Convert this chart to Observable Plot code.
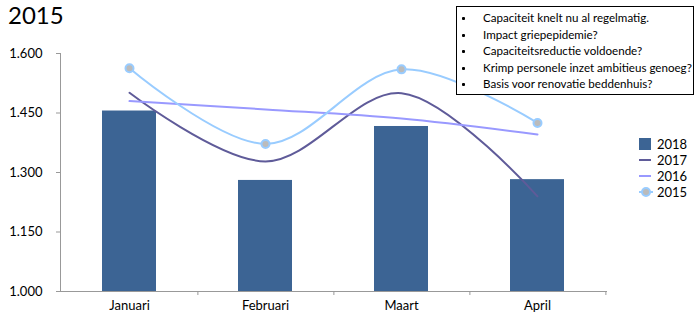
<!DOCTYPE html>
<html>
<head>
<meta charset="utf-8">
<script src="https://cdn.jsdelivr.net/npm/d3@7"></script>
<script src="https://cdn.jsdelivr.net/npm/@observablehq/plot@0.6"></script>
<style>
  html, body { margin: 0; padding: 0; background: #fff; }
  #wrap { position: relative; width: 698px; height: 313px; font-family: Lato, "Open Sans", sans-serif; color: #000; }
  #title { position: absolute; left: 8px; top: 0px; font-size: 24px; line-height: 30px; }
  #box { position: absolute; left: 456px; top: 6px; width: 238px; height: 89px; border: 1px solid #000; box-sizing: border-box; background: #fff; font-size: 11.6px; }
  #box ul { margin: 0; padding: 3px 0 0 0; list-style: none; }
  #box li { position: relative; line-height: 16.5px; padding-left: 26px; white-space: nowrap; }
  #box li::before { content: ""; position: absolute; left: 5px; top: 7px; width: 3px; height: 3px; background: #000; border-radius: 1px; }
  #legend { position: absolute; left: 639px; top: 136px; font-size: 13px; }
  .lg { position: relative; height: 16px; line-height: 16px; padding-left: 18px; }
  .sw { position: absolute; left: 0; }
</style>
</head>
<body>
<div id="wrap">
  <div id="chart"></div>
  <div id="title">2015</div>
  <div id="box"><ul id="notes"></ul></div>
  <div id="legend"></div>
</div>
<script>
const months = ["Januari", "Februari", "Maart", "April"];
const v2018 = [1455, 1280, 1416, 1282];
const v2017 = [1501, 1328, 1500, 1240];
const v2016 = [1480, 1459, 1436, 1396];
const v2015 = [1563, 1372, 1560, 1425];
const yTicks = [1000, 1150, 1300, 1450, 1600];
const notes = [
  "Capaciteit knelt nu al regelmatig.",
  "Impact griepepidemie?",
  "Capaciteitsreductie voldoende?",
  "Krimp personele inzet ambitieus genoeg?",
  "Basis voor renovatie beddenhuis?"
];
const seriesNames = ["2018", "2017", "2016", "2015"];
const colors = { "2018": "#3C6494", "2017": "#5F5B99", "2016": "#9999FF", "2015": "#99CCFF" };

const rows = months.map((m, i) => ({ m, v2018: v2018[i], v2017: v2017[i], v2016: v2016[i], v2015: v2015[i] }));

const W = 698, H = 313, mL = 60, mR = 91, mT = 53, mB = 22;
const step = (W - mL - mR) / months.length;
const fmt = d => d3.format(",")(d).replace(/,/g, ".");

const chart = Plot.plot({
  width: W, height: H,
  marginLeft: mL, marginRight: mR, marginTop: mT, marginBottom: mB,
  style: { fontFamily: "Lato, 'Open Sans', sans-serif", fontSize: "13px", color: "#000", background: "transparent" },
  x: { domain: months, paddingInner: 0.6, paddingOuter: 0.3, label: null, axis: null },
  y: { domain: [1000, 1600], label: null, axis: null },
  marks: [
    Plot.barY(rows, { x: "m", y1: 1000, y2: "v2018", fill: colors["2018"] }),
    Plot.line(rows, { x: "m", y: "v2017", stroke: colors["2017"], strokeWidth: 2, curve: "catmull-rom" }),
    Plot.line(rows, { x: "m", y: "v2016", stroke: colors["2016"], strokeWidth: 2, curve: "catmull-rom" }),
    Plot.line(rows, { x: "m", y: "v2015", stroke: colors["2015"], strokeWidth: 2, curve: "catmull-rom" }),
    Plot.dot(rows, { x: "m", y: "v2015", r: 4, fill: "#BBBBBB", stroke: colors["2015"], strokeWidth: 2 }),
    Plot.ruleY([1000], { stroke: "#999", strokeWidth: 1 }),
    Plot.frame({ anchor: "left", stroke: "#999" }),
    Plot.axisY({ ticks: yTicks, tickFormat: fmt, tickSize: 4, tickPadding: 14, stroke: "#999", color: "#000", fontSize: 13 }),
    Plot.axisX({ tickSize: 4, text: null, dx: step / 2, stroke: "#999" }),
    Plot.axisX({ tickSize: 0, tickPadding: 9, color: "#000", fontSize: 13 })
  ]
});
document.getElementById("chart").appendChild(chart);

const ul = document.getElementById("notes");
notes.forEach(t => { const li = document.createElement("li"); li.textContent = t; ul.appendChild(li); });

const lg = document.getElementById("legend");
seriesNames.forEach(s => {
  const d = document.createElement("div");
  d.className = "lg";
  let sw;
  if (s === "2018") sw = `<svg class="sw" width="12" height="16"><rect x="0" y="2" width="12" height="12" fill="${colors[s]}"/></svg>`;
  else if (s === "2015") sw = `<svg class="sw" width="14" height="16"><line x1="0" y1="8" x2="14" y2="8" stroke="${colors[s]}" stroke-width="2"/><circle cx="7" cy="8" r="4" fill="#BBBBBB" stroke="${colors[s]}" stroke-width="2"/></svg>`;
  else sw = `<svg class="sw" width="14" height="16"><line x1="0" y1="8" x2="12" y2="8" stroke="${colors[s]}" stroke-width="2"/></svg>`;
  d.innerHTML = sw + s;
  lg.appendChild(d);
});
</script>
</body>
</html>
